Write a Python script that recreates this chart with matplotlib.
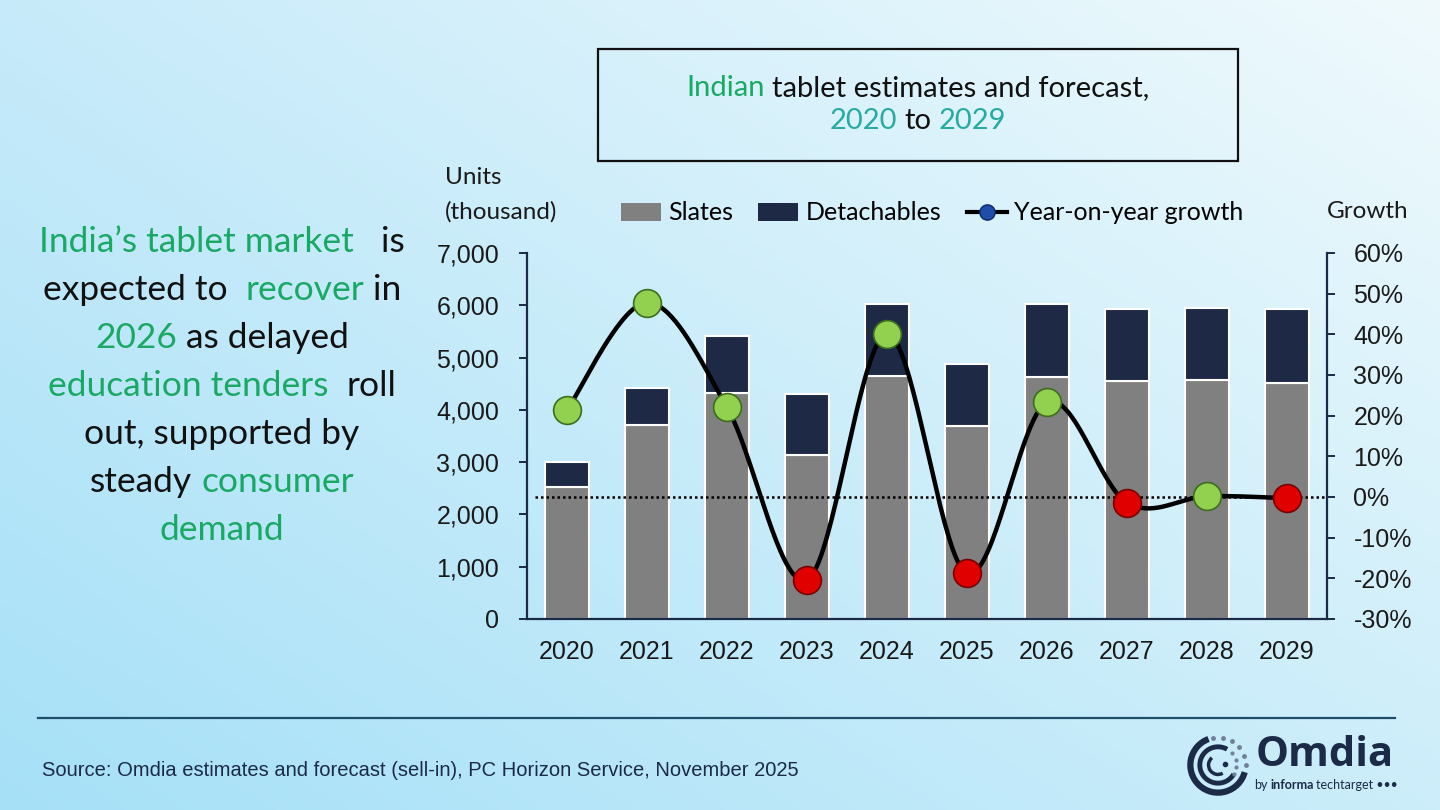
import numpy as np
import matplotlib
matplotlib.use("Agg")
import matplotlib.pyplot as plt
from matplotlib.patches import Rectangle, Patch, Arc
from matplotlib.lines import Line2D

# data (thousand units, growth in %)
years = ["2020", "2021", "2022", "2023", "2024", "2025", "2026", "2027", "2028", "2029"]
slates = [2520, 3710, 4315, 3140, 4650, 3700, 4620, 4555, 4570, 4520]
detachables = [480, 710, 1095, 1155, 1370, 1180, 1410, 1375, 1375, 1410]
growth = [21.4, 47.8, 22.1, -20.4, 40.0, -18.8, 23.3, -1.4, 0.2, -0.3]

left_ticks = [0, 1000, 2000, 3000, 4000, 5000, 6000, 7000]
right_ticks = [-30, -20, -10, 0, 10, 20, 30, 40, 50, 60]

W, H = 1440, 810
GREEN_TXT = "#1aa865"
TEAL_TXT = "#27aaa2"
DARK = "#1b2a47"
CAL = ["Lato", "DejaVu Sans"]
ARI = ["Liberation Sans", "DejaVu Sans"]


def fx(px):
    return px / W


def fy(py):
    return 1 - py / H


def smooth(xs, ys, n=40):
    # Catmull-Rom like Excel's smoothed line
    P = np.column_stack([xs, ys]).astype(float)
    P = np.vstack([P[0], P, P[-1]])
    out = []
    for i in range(1, len(P) - 2):
        p0, p1, p2, p3 = P[i - 1], P[i], P[i + 1], P[i + 2]
        c1 = p1 + (p2 - p0) / 6.0
        c2 = p2 - (p3 - p1) / 6.0
        t = np.linspace(0, 1, n)[:, None]
        seg = ((1 - t) ** 3) * p1 + 3 * ((1 - t) ** 2) * t * c1 + 3 * (1 - t) * t ** 2 * c2 + t ** 3 * p2
        out.append(seg)
    out = np.vstack(out)
    return out[:, 0], out[:, 1]


fig = plt.figure(figsize=(14.4, 8.1), dpi=100)

# background gradient
yy, xx = np.mgrid[0:1:200j, 0:1:360j]
tl = np.array([0.78, 0.92, 0.98])
tr = np.array([0.94, 0.98, 0.99])
bl = np.array([0.65, 0.88, 0.97])
br = np.array([0.80, 0.93, 0.98])
grad = ((1 - xx)[..., None] * (1 - yy)[..., None] * tl + xx[..., None] * (1 - yy)[..., None] * tr
        + (1 - xx)[..., None] * yy[..., None] * bl + xx[..., None] * yy[..., None] * br)
bg = fig.add_axes([0, 0, 1, 1], zorder=-10)
bg.imshow(grad, aspect="auto", extent=[0, 1, 0, 1], origin="upper")
bg.axis("off")

# main axes
ax = fig.add_axes([fx(527), fy(619), 800 / W, 366 / H])
ax.patch.set_alpha(0)
x = np.arange(len(years))
ax.bar(x, slates, width=0.54, color="#808080", edgecolor="white", linewidth=1.5, zorder=2)
ax.bar(x, detachables, bottom=slates, width=0.54, color="#1e2a45", edgecolor="white", linewidth=1.5, zorder=2)
ax.set_xlim(-0.5, len(years) - 0.5)
ax.set_ylim(0, 7000)
ax.set_yticks(left_ticks)
ax.set_yticklabels([f"{v:,}" for v in left_ticks], fontsize=18, family=ARI, color="#1a1a1a")
ax.set_xticks(x)
ax.set_xticklabels(years, fontsize=18, family=ARI, color="#1a1a1a")
ax.tick_params(axis="x", length=0, pad=15)
ax.tick_params(axis="y", length=6, width=1.4, pad=14, color=DARK, direction="out")
for s in ["top", "right"]:
    ax.spines[s].set_visible(False)
for s in ["left", "bottom"]:
    ax.spines[s].set_color(DARK)
    ax.spines[s].set_linewidth(1.6)

ax2 = ax.twinx()
ax2.patch.set_alpha(0)
ax2.set_ylim(-30, 60)
ax2.set_yticks(right_ticks)
ax2.set_yticklabels([f"{v}%" for v in right_ticks], fontsize=18, family=ARI, color="#1a1a1a")
ax2.tick_params(axis="y", length=6, width=1.4, pad=13, color=DARK, direction="out")
for s in ["top", "left", "bottom"]:
    ax2.spines[s].set_visible(False)
ax2.spines["right"].set_color(DARK)
ax2.spines["right"].set_linewidth(1.6)
ax2.axhline(0, xmin=0.01, xmax=1, color="black", linestyle=(0, (1, 1.2)), linewidth=1.8, zorder=3)

sx, sy = smooth(x, growth)
ax2.plot(sx, sy, color="black", linewidth=3.2, zorder=4, solid_capstyle="round")
for xi, g in zip(x, growth):
    fc, ec = ("#92d050", "#3c6e1c") if g >= 0 else ("#e00000", "#7a0000")
    ax2.plot(xi, g, "o", markersize=20, markerfacecolor=fc, markeredgecolor=ec, markeredgewidth=1.2, zorder=5)

# legend
handles = [Patch(facecolor="#808080", edgecolor="none"),
           Patch(facecolor="#1e2a45", edgecolor="none"),
           Line2D([0], [0], color="black", linewidth=3, marker="o", markersize=11,
                  markerfacecolor="#1f4ea8", markeredgecolor="#0d2a6a")]
fig.legend(handles, ["Slates", "Detachables", "Year-on-year growth"], loc="center",
           bbox_to_anchor=(fx(932), fy(213)), ncol=3, frameon=False,
           prop={"family": CAL, "size": 18}, handlelength=1.6, handletextpad=0.3,
           columnspacing=1.0)

fig.text(fx(445), fy(178), "Units", fontsize=17.5, family=CAL, color="#1a1a1a", va="center", ha="left")
fig.text(fx(445), fy(212), "(thousand)", fontsize=17.5, family=CAL, color="#1a1a1a", va="center", ha="left")
fig.text(fx(1368), fy(212), "Growth", fontsize=17.5, family=CAL, color="#1a1a1a", va="center", ha="center")

# rich text helper
fig.canvas.draw()
renderer = fig.canvas.get_renderer()


def adv(s, size, family, weight="normal"):
    t1 = fig.text(0, 0, "|" + s + "|", fontsize=size, family=family, fontweight=weight)
    t2 = fig.text(0, 0, "||", fontsize=size, family=family, fontweight=weight)
    w = t1.get_window_extent(renderer).width - t2.get_window_extent(renderer).width
    t1.remove()
    t2.remove()
    return w


def rich_line(pieces, xc, yc, size, family):
    full = "".join(p[0] for p in pieces)
    total = adv(full, size, family)
    x0 = xc - total / 2
    prefix = ""
    for piece in pieces:
        s, c = piece[0], piece[1]
        weight = piece[2] if len(piece) > 2 else "normal"
        lead = len(s) - len(s.lstrip(" "))
        start = x0 + adv(prefix + s[:lead], size, family)
        fig.text(start / W, fy(yc), s.strip(" "), fontsize=size, family=family, color=c,
                 fontweight=weight, va="center", ha="left")
        prefix += s


K = "#111111"
G = GREEN_TXT
rich_line([("Indian", G), (" tablet estimates and forecast,", K)], 918, 88, 21, CAL)
rich_line([("2020", TEAL_TXT), (" to ", K), ("2029", TEAL_TXT)], 918, 121, 21, CAL)
fig.patches.append(Rectangle((fx(598), fy(161)), 640 / W, 112 / H, transform=fig.transFigure,
                             facecolor="none", edgecolor="#111111", linewidth=1.6))

side = [
    [("India’s tablet market", G), ("   is", K)],
    [("expected to ", K), (" recover", G), (" in", K)],
    [("2026", G), (" as delayed", K)],
    [("education tenders", G), ("  roll", K)],
    [("out, supported by", K)],
    [("steady ", K), ("consumer", G)],
    [("demand", G)],
]
for i, line in enumerate(side):
    rich_line(line, 222, 242 + i * 48, 25.5, CAL)

# footer
fig.add_artist(Line2D([fx(38), fx(1395)], [fy(718), fy(718)], transform=fig.transFigure,
                      color="#1f4e6b", linewidth=1.6))
fig.text(fx(42), fy(770), "Source: Omdia estimates and forecast (sell-in), PC Horizon Service, November 2025",
         fontsize=14.5, family=ARI, color="#1b2a47", va="center", ha="left")

# logo
lg = fig.add_axes([fx(1186), fy(797), 64 / W, 64 / H])
lg.set_xlim(-1.1, 1.1)
lg.set_ylim(-1.1, 1.1)
lg.set_aspect("equal")
lg.axis("off")
lg.add_patch(Arc((0, 0), 1.9, 1.9, theta1=110, theta2=345, color=DARK, linewidth=4.5))
for a in np.linspace(0, 100, 6):
    r = np.deg2rad(a)
    lg.plot(0.95 * np.cos(r), 0.95 * np.sin(r), "o", color="#6f8199", markersize=2.5)
lg.add_patch(Arc((0, 0), 1.25, 1.25, theta1=60, theta2=330, color=DARK, linewidth=3.5))
for a in np.linspace(-30, 40, 4):
    r = np.deg2rad(a)
    lg.plot(0.63 * np.cos(r), 0.63 * np.sin(r), "o", color="#6f8199", markersize=2)
lg.add_patch(Arc((0, 0), 0.65, 0.65, theta1=130, theta2=300, color=DARK, linewidth=2.5))
lg.plot(0.25, 0.05, "o", color=DARK, markersize=3)
fig.text(fx(1256), fy(756), "Omdia", fontsize=30, fontweight="bold", family=["Open Sans", "DejaVu Sans"],
         color=DARK, va="center", ha="left")
rich_line([("by ", DARK), ("informa", DARK, "bold"), (" techtarget •••", DARK)], 1326, 785, 9, CAL)

fig.savefig("out.png", dpi=100)
